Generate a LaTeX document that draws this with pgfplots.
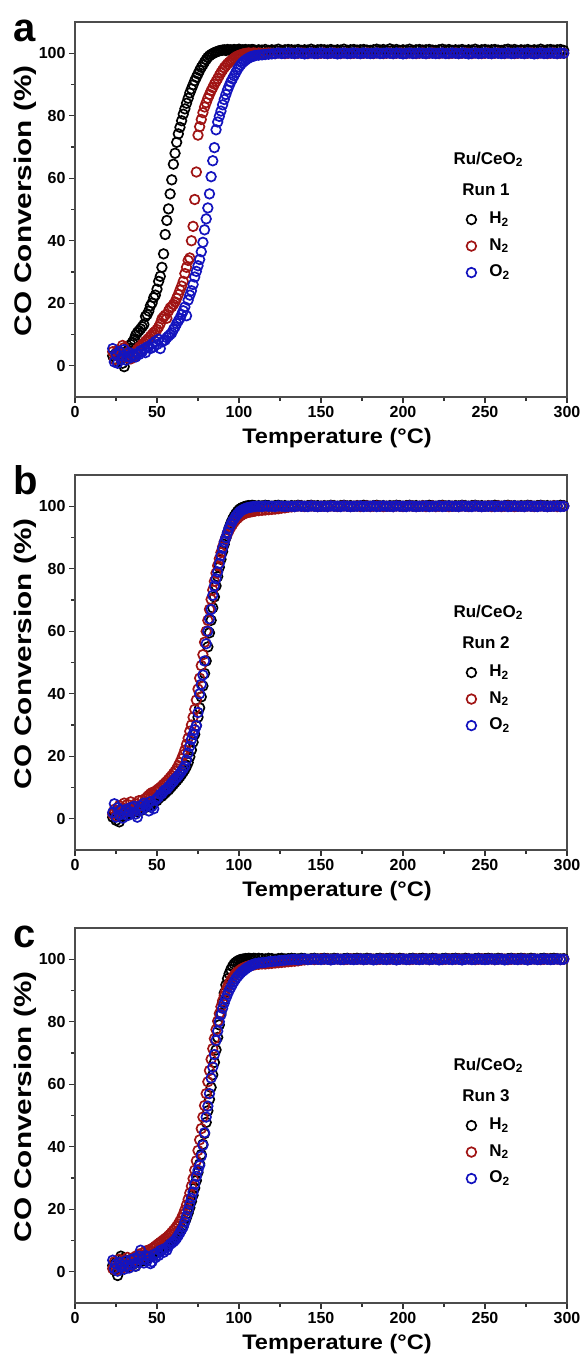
\documentclass[border=0pt]{standalone}
\usepackage{fontspec}
\setmainfont{Liberation Sans}
\usepackage{graphicx}
\usepackage{pgfplots}
\usepackage{pgfplotstable}
\pgfplotsset{compat=1.18}

\definecolor{gasH}{RGB}{0,0,0}
\definecolor{gasN}{RGB}{160,20,20}
\definecolor{gasO}{RGB}{20,20,190}

% CO conversion (%) vs temperature (C); a/b/c = run 1/2/3, H/N/O = pretreatment gas
\pgfplotstableread{
T aH aN aO bH bN bO cH cN cO
23 3.2 4.5 5.5 0.5 1.5 2.0 2.0 1.0 3.7
24 2.1 2.0 1.2 2.2 3.0 4.8 0.5 3.2 1.0
25 4.0 3.5 3.8 -0.5 0.8 0.5 3.0 0.5 2.5
26 1.5 5.0 0.8 1.5 2.5 3.5 -1.2 2.0 0.2
27 3.0 2.8 4.6 -1.0 4.2 1.2 1.0 4.0 3.0
28 2.2 4.2 2.0 2.0 1.8 2.8 5.0 2.6 1.5
29 0.8 6.5 3.2 0.8 3.5 0.2 4.2 1.2 2.2
30 -0.3 5.8 5.2 2.5 5.0 1.8 2.0 3.8 0.8
31 3.5 3.0 1.8 1.2 2.6 3.0 3.5 2.2 3.5
32 4.8 2.5 3.0 3.0 4.6 1.0 1.5 4.6 2.0
33 5.5 3.8 4.2 2.0 3.2 2.4 2.8 3.0 1.2
34 6.8 2.2 2.6 1.5 5.4 3.6 4.0 2.0 3.8
35 7.5 4.0 3.5 3.2 4.0 2.0 2.2 4.2 2.4
36 8.4 3.0 3.4 2.5 2.8 4.0 3.4 3.6 4.2
37 9.8 4.5 2.8 3.8 4.8 1.5 1.8 5.0 1.8
38 10.6 5.2 4.0 2.2 3.5 0.5 3.0 4.0 3.0
39 11.2 5.8 3.6 3.0 5.8 2.6 4.4 5.6 5.0
40 11.8 6.2 4.8 4.0 4.4 4.2 3.2 4.6 6.9
41 12.5 6.8 4.5 2.8 6.0 3.0 4.8 6.0 4.0
42 13.2 7.2 5.4 3.6 5.0 5.0 3.6 5.4 2.8
43 15.8 7.8 4.2 4.5 6.4 3.8 5.0 6.6 5.2
44 16.4 8.3 6.0 3.8 7.0 4.5 4.2 6.0 3.6
45 17.5 8.8 6.2 5.0 7.5 2.5 5.4 7.0 4.8
46 19.2 9.4 5.5 4.2 8.0 5.5 4.8 6.4 2.6
47 20.1 10.0 7.0 5.5 8.4 4.0 5.8 7.4 3.2
48 21.8 10.6 6.0 5.0 8.0 3.2 5.2 7.8 5.5
49 22.6 11.0 7.8 6.0 8.8 6.0 6.0 8.2 4.5
50 24.5 11.6 6.8 5.8 9.2 6.5 6.5 8.6 6.0
51 27.0 12.4 8.5 6.5 9.6 7.0 6.2 9.0 5.2
52 28.6 13.5 5.5 7.0 10.0 7.8 7.0 9.4 6.8
53 31.5 15.0 7.6 7.2 10.5 8.0 7.2 9.8 7.0
54 35.8 15.6 8.0 7.8 11.0 8.8 7.6 10.2 6.2
55 42.0 16.2 8.2 8.2 11.5 9.3 8.0 10.6 7.5
56 46.5 15.2 9.0 8.8 12.0 9.5 8.4 11.0 6.9
57 50.2 17.5 9.5 9.2 12.6 10.2 8.8 11.5 8.2
58 55.0 18.5 10.0 9.8 13.2 10.8 9.2 12.0 8.8
59 59.5 18.9 10.5 10.4 13.8 11.5 9.6 12.6 9.2
60 64.5 19.6 11.6 11.0 14.5 12.0 10.0 13.2 9.6
61 68.0 20.4 12.4 11.6 15.2 12.7 10.6 13.8 10.1
62 71.5 21.6 13.5 12.2 16.0 13.2 11.2 14.5 10.8
63 74.2 22.8 14.4 12.8 17.0 13.8 12.0 15.3 11.6
64 76.3 24.2 15.2 13.5 18.0 14.5 12.8 16.2 12.5
65 78.4 25.5 16.4 14.2 19.2 15.2 13.8 17.2 13.4
66 80.5 27.0 17.6 15.0 20.5 16.0 14.8 18.4 14.4
67 82.2 29.5 18.8 15.8 22.0 16.8 16.0 19.8 16.0
68 84.0 31.5 16.0 16.8 23.8 18.8 17.3 21.4 17.8
69 85.6 33.7 21.0 18.0 25.8 21.0 18.8 23.2 19.7
70 87.3 34.5 22.6 19.8 28.0 23.2 20.5 25.2 21.6
71 88.6 40.0 24.0 22.0 30.0 25.4 22.5 27.4 23.5
72 89.9 44.6 26.0 24.5 32.5 27.0 24.5 29.8 25.5
73 91.2 53.2 28.4 27.0 35.0 28.5 26.8 32.5 28.0
74 92.3 62.0 30.2 29.8 38.0 29.8 29.2 35.5 30.5
75 93.4 73.8 32.0 32.5 41.5 34.0 31.8 38.8 32.5
76 94.5 76.5 34.0 35.5 45.0 40.0 34.5 42.2 34.0
77 95.5 78.8 36.5 39.0 49.0 43.0 37.5 45.8 37.0
78 96.3 81.0 39.5 42.5 52.5 46.0 40.8 49.5 40.5
79 97.2 82.8 43.5 46.5 56.5 50.5 44.2 53.2 44.5
80 98.0 84.2 47.0 50.5 60.0 56.0 47.8 57.0 49.5
81 98.7 85.6 50.5 55.0 63.5 60.0 51.5 60.8 53.0
82 99.2 86.8 55.0 59.5 67.0 64.0 55.2 64.4 57.0
83 99.6 88.0 60.5 63.5 70.2 67.0 59.0 68.0 62.0
84 99.9 89.0 65.6 67.5 73.2 71.5 63.0 71.4 65.5
85 100.2 90.1 69.8 71.0 76.0 74.5 67.0 74.6 69.5
86 100.4 91.0 75.5 74.5 78.6 76.8 71.0 77.5 74.0
87 100.6 91.9 78.0 77.5 81.0 79.0 75.0 80.2 77.0
88 100.8 92.9 79.8 80.5 83.2 81.7 79.0 82.6 80.0
89 100.9 93.8 81.5 83.0 85.2 84.2 82.8 84.8 82.2
90 101.0 94.6 83.5 85.5 87.0 86.5 86.2 86.7 84.3
91 101.1 95.4 85.2 87.8 88.6 88.5 89.2 88.4 86.0
92 100.9 96.0 86.8 89.8 90.0 90.0 91.8 89.9 87.5
93 101.2 96.6 88.3 91.6 91.2 91.6 93.8 91.2 88.8
94 101.0 97.1 89.6 93.2 92.3 93.0 95.4 92.3 90.0
95 101.1 97.6 90.8 94.6 93.3 94.2 96.7 93.3 91.0
96 100.9 98.0 91.8 95.8 94.1 95.2 97.7 94.1 92.0
97 101.2 98.4 92.8 96.8 94.9 96.0 98.5 94.8 92.9
98 101.0 98.8 93.8 97.6 95.6 96.8 99.0 95.4 93.7
99 101.1 99.1 94.8 98.3 96.1 97.4 99.4 95.9 94.4
100 101.3 99.3 95.6 98.9 96.6 98.0 99.7 96.3 95.0
101 100.9 99.5 96.3 99.3 97.0 98.5 99.9 96.7 95.6
102 101.1 99.7 96.9 99.6 97.3 98.8 100.0 97.0 96.1
103 101.0 99.8 97.4 99.8 97.6 99.1 100.1 97.3 96.5
104 101.2 99.9 97.8 100.0 97.8 99.3 100.2 97.5 96.9
105 100.9 100.0 98.2 100.1 98.0 99.5 100.2 97.7 97.3
106 101.1 100.1 98.5 100.2 98.1 99.6 100.3 97.9 97.6
107 101.0 99.9 98.8 100.1 98.2 99.7 100.2 98.0 97.9
108 101.2 100.0 99.0 100.3 98.3 99.8 100.1 98.1 98.2
109 101.1 100.1 99.1 100.2 98.4 99.9 100.3 98.2 98.4
110 100.9 100.0 99.3 100.1 98.5 99.9 100.2 98.3 98.6
112 101.1 100.1 99.4 100.2 98.6 100.0 100.3 98.4 98.8
114 101.0 99.9 99.5 100.1 98.7 99.9 100.2 98.5 98.9
116 101.2 100.0 99.6 100.3 98.8 100.1 100.1 98.5 99.0
118 100.9 100.1 99.7 100.2 98.9 100.0 100.3 98.6 99.2
120 101.1 100.0 99.8 100.0 99.0 100.0 100.2 98.7 99.3
122 101.0 99.9 99.9 100.2 99.1 99.9 100.0 98.8 99.4
124 101.3 100.1 100.1 100.3 99.2 100.1 100.2 98.9 99.5
126 100.9 100.0 99.9 100.1 99.4 100.0 100.3 99.0 99.6
128 101.1 99.9 100.0 100.2 99.5 99.9 100.1 99.1 99.7
130 101.2 100.0 100.1 100.0 99.7 100.0 100.2 99.2 99.8
132 101.1 100.1 100.0 100.2 99.8 100.0 100.3 99.3 99.9
134 101.0 99.9 99.9 100.1 99.9 99.9 100.2 99.4 100.0
136 101.2 100.0 100.1 100.3 100.1 100.1 100.1 99.5 99.8
138 100.9 100.1 100.0 100.2 100.0 100.0 100.3 99.7 100.0
140 101.1 100.0 99.8 100.0 99.9 100.0 100.2 99.8 100.1
142 101.0 99.9 100.0 100.2 100.0 99.9 100.0 99.9 99.9
144 101.3 100.1 100.1 100.3 100.1 100.1 100.2 100.0 100.0
146 100.9 100.0 99.9 100.1 100.0 100.0 100.3 99.9 100.1
148 101.1 99.9 100.0 100.2 99.9 99.9 100.1 100.0 100.0
150 101.2 100.0 100.1 100.0 100.0 100.0 100.2 100.1 99.9
152 101.1 100.1 100.0 100.2 100.0 100.0 100.3 100.0 100.1
154 101.0 99.9 99.9 100.1 99.9 99.9 100.2 100.1 100.0
156 101.2 100.0 100.1 100.3 100.1 100.1 100.1 99.9 99.8
158 100.9 100.1 100.0 100.2 100.0 100.0 100.3 100.0 100.0
160 101.1 100.0 99.8 100.0 99.9 100.0 100.2 100.1 100.1
162 101.0 99.9 100.0 100.2 100.0 99.9 100.0 100.0 99.9
164 101.3 100.1 100.1 100.3 100.1 100.1 100.2 99.9 100.0
166 100.9 100.0 99.9 100.1 100.0 100.0 100.3 100.0 100.1
168 101.1 99.9 100.0 100.2 99.9 99.9 100.1 100.1 100.0
170 101.2 100.0 100.1 100.0 100.0 100.0 100.2 100.0 99.9
172 101.0 100.1 100.0 100.2 100.1 100.0 100.3 100.0 100.0
174 101.1 99.9 99.9 100.1 99.9 100.1 100.2 100.1 100.1
176 101.2 100.0 100.1 100.3 100.0 99.9 100.1 99.9 99.9
178 101.0 100.1 100.0 100.2 100.1 100.0 100.3 100.0 100.0
180 100.9 100.0 99.9 100.0 99.9 100.0 100.2 100.1 100.1
182 101.1 99.9 100.0 100.2 100.0 100.1 100.0 100.0 99.8
184 101.3 100.1 100.1 100.3 100.1 99.9 100.2 99.9 100.0
186 101.0 100.0 99.9 100.1 100.0 100.0 100.3 100.0 100.1
188 101.2 99.9 100.0 100.2 99.9 100.1 100.1 100.1 100.0
190 100.9 100.0 100.1 100.0 100.0 100.0 100.2 100.0 99.9
192 101.4 100.1 100.0 100.2 100.0 100.0 100.3 100.0 100.1
194 101.0 99.9 99.9 100.1 99.9 99.9 100.2 100.1 100.0
196 101.2 100.0 100.1 100.3 100.1 100.1 100.1 99.9 99.8
198 100.9 100.1 100.0 100.2 100.0 100.0 100.3 100.0 100.0
200 101.1 100.0 99.8 100.0 99.9 100.0 100.2 100.1 100.1
202 101.0 99.9 100.0 100.2 100.0 99.9 100.0 100.0 99.9
204 101.3 100.1 100.1 100.3 100.1 100.1 100.2 99.9 100.0
206 100.9 100.0 99.9 100.1 100.0 100.0 100.3 100.0 100.1
208 101.1 99.9 100.0 100.2 99.9 99.9 100.1 100.1 100.0
210 101.2 100.0 100.1 100.0 100.0 100.0 100.2 100.0 99.9
212 101.0 100.1 100.0 100.2 100.1 100.0 100.3 100.0 100.0
214 101.1 99.9 99.9 100.1 99.9 100.1 100.2 100.1 100.1
216 101.2 100.0 100.1 100.3 100.0 99.9 100.1 99.9 99.9
218 101.0 100.1 100.0 100.2 100.1 100.0 100.3 100.0 100.0
220 100.9 100.0 99.9 100.0 99.9 100.0 100.2 100.1 100.1
222 101.1 99.9 100.0 100.2 100.0 100.1 100.0 100.0 99.8
224 101.3 100.1 100.1 100.3 100.1 99.9 100.2 99.9 100.0
226 101.0 100.0 99.9 100.1 100.0 100.0 100.3 100.0 100.1
228 101.2 99.9 100.0 100.2 99.9 100.1 100.1 100.1 100.0
230 100.9 100.0 100.1 100.0 100.0 100.0 100.2 100.0 99.9
232 101.1 100.1 100.0 100.2 100.0 100.0 100.3 100.0 100.1
234 101.0 99.9 99.9 100.1 99.9 99.9 100.2 100.1 100.0
236 101.2 100.0 100.1 100.3 100.1 100.1 100.1 99.9 99.8
238 100.9 100.1 100.0 100.2 100.0 100.0 100.3 100.0 100.0
240 101.1 100.0 99.8 100.0 99.9 100.0 100.2 100.1 100.1
242 101.0 99.9 100.0 100.2 100.0 99.9 100.0 100.0 99.9
244 101.3 100.1 100.1 100.3 100.1 100.1 100.2 99.9 100.0
246 100.9 100.0 99.9 100.1 100.0 100.0 100.3 100.0 100.1
248 101.1 99.9 100.0 100.2 99.9 99.9 100.1 100.1 100.0
250 101.2 100.0 100.1 100.0 100.0 100.0 100.2 100.0 99.9
252 101.0 100.1 100.0 100.2 100.1 100.0 100.3 100.0 100.0
254 101.1 99.9 99.9 100.1 99.9 100.1 100.2 100.1 100.1
256 101.2 100.0 100.1 100.3 100.0 99.9 100.1 99.9 99.9
258 101.0 100.1 100.0 100.2 100.1 100.0 100.3 100.0 100.0
260 100.9 100.0 99.9 100.0 99.9 100.0 100.2 100.1 100.1
262 101.1 99.9 100.0 100.2 100.0 100.1 100.0 100.0 99.8
264 101.3 100.1 100.1 100.3 100.1 99.9 100.2 99.9 100.0
266 101.0 100.0 99.9 100.1 100.0 100.0 100.3 100.0 100.1
268 101.2 99.9 100.0 100.2 99.9 100.1 100.1 100.1 100.0
270 100.9 100.0 100.1 100.0 100.0 100.0 100.2 100.0 99.9
272 101.1 100.1 100.0 100.2 100.0 100.0 100.3 100.0 100.1
274 101.0 99.9 99.9 100.1 99.9 99.9 100.2 100.1 100.0
276 101.2 100.0 100.1 100.3 100.1 100.1 100.1 99.9 99.8
278 100.9 100.1 100.0 100.2 100.0 100.0 100.3 100.0 100.0
280 101.1 100.0 99.8 100.0 99.9 100.0 100.2 100.1 100.1
282 101.0 99.9 100.0 100.2 100.0 99.9 100.0 100.0 99.9
284 101.3 100.1 100.1 100.3 100.1 100.1 100.2 99.9 100.0
286 100.9 100.0 99.9 100.1 100.0 100.0 100.3 100.0 100.1
288 101.1 99.9 100.0 100.2 99.9 99.9 100.1 100.1 100.0
290 101.2 100.0 100.1 100.0 100.0 100.0 100.2 100.0 99.9
292 101.0 100.1 100.0 100.2 100.1 100.0 100.3 100.0 100.0
294 101.1 99.9 99.9 100.1 99.9 100.1 100.2 100.1 100.1
296 101.2 100.0 100.1 100.3 100.0 99.9 100.1 99.9 99.9
298 100.9 100.0 100.0 100.2 100.0 100.0 100.2 100.0 100.0
}\conv

\pgfplotsset{
  convaxis/.style={
    scale only axis, width=492pt, height=375pt,
    xmin=0, xmax=300, ymin=-10, ymax=110,
    clip mode=individual,
    xtick={0,50,...,300}, ytick={0,20,...,100},
    minor x tick num=1, minor y tick num=1,
    tick align=outside, xtick pos=bottom, ytick pos=left,
    major tick length=6pt, minor tick length=4pt,
    every tick/.style={line width=1.1pt, black!80},
    axis line style={line width=1.2pt, black!70},
    /pgf/number format/assume math mode=true,
    ticklabel style={font=\fontsize{16}{16}\selectfont\bfseries},
    xlabel={\scalebox{1.12}[1]{Temperature (°C)}},
    ylabel={\scalebox{1.24}[1]{CO Conversion (\%)}},
    xlabel style={font=\fontsize{21}{21}\selectfont\bfseries,
      at={(axis description cs:0.5325,-0.109)}, anchor=center},
    ylabel style={font=\fontsize{24}{24}\selectfont\bfseries,
      at={(axis description cs:-0.1016,0.523)}, anchor=center},
    legend style={at={(axis description cs:0.785,0.4025)}, anchor=west,
      draw=none, fill=none, font=\fontsize{17}{17}\selectfont\bfseries,
      row sep=6.5pt,
      nodes={inner sep=1pt, text height=13pt, text depth=5pt}},
    legend cell align=left,
    legend image code/.code={%
      \path[draw=none, fill=none] (0pt,-2pt) rectangle (24pt,2pt);
      \draw[mark repeat=2,mark phase=2,#1] plot coordinates {(0pt,0pt) (7pt,0pt) (24pt,0pt)};},
    every axis plot/.append style={only marks, mark=o, mark size=4.8pt, line width=1.7pt},
  }
}

\newcommand{\legtitle}[1]{%
  \node[font=\fontsize{17}{17}\selectfont\bfseries] at (axis cs:252,66.1) {Ru/CeO\textsubscript{2}};
  \node[font=\fontsize{17}{17}\selectfont\bfseries] at (axis cs:250.6,56.2) {Run #1};}
\newcommand{\panel}[1]{%
  \node[anchor=base west, inner sep=0pt, font=\fontsize{40}{40}\selectfont\bfseries]
    at (axis description cs:-0.126,0.949) {#1};}

\begin{document}
\begin{tikzpicture}
\path[use as bounding box] (-75pt,22pt) rectangle (509pt,-1343pt);

\begin{axis}[convaxis, at={(0pt,0pt)}, anchor=north west]
  \addplot[gasH] table[x=T, y=aH] {\conv};
  \addplot[gasN] table[x=T, y=aN] {\conv};
  \addplot[gasO] table[x=T, y=aO] {\conv};
  \addlegendentry{H\textsubscript{2}}
  \addlegendentry{N\textsubscript{2}}
  \addlegendentry{O\textsubscript{2}}
  \legtitle{1}
  \panel{a}
\end{axis}

\begin{axis}[convaxis, at={(0pt,-453pt)}, anchor=north west]
  \addplot[gasH] table[x=T, y=bH] {\conv};
  \addplot[gasN] table[x=T, y=bN] {\conv};
  \addplot[gasO] table[x=T, y=bO] {\conv};
  \addlegendentry{H\textsubscript{2}}
  \addlegendentry{N\textsubscript{2}}
  \addlegendentry{O\textsubscript{2}}
  \legtitle{2}
  \panel{b}
\end{axis}

\begin{axis}[convaxis, at={(0pt,-906pt)}, anchor=north west]
  \addplot[gasH] table[x=T, y=cH] {\conv};
  \addplot[gasN] table[x=T, y=cN] {\conv};
  \addplot[gasO] table[x=T, y=cO] {\conv};
  \addlegendentry{H\textsubscript{2}}
  \addlegendentry{N\textsubscript{2}}
  \addlegendentry{O\textsubscript{2}}
  \legtitle{3}
  \panel{c}
\end{axis}
\end{tikzpicture}
\end{document}
